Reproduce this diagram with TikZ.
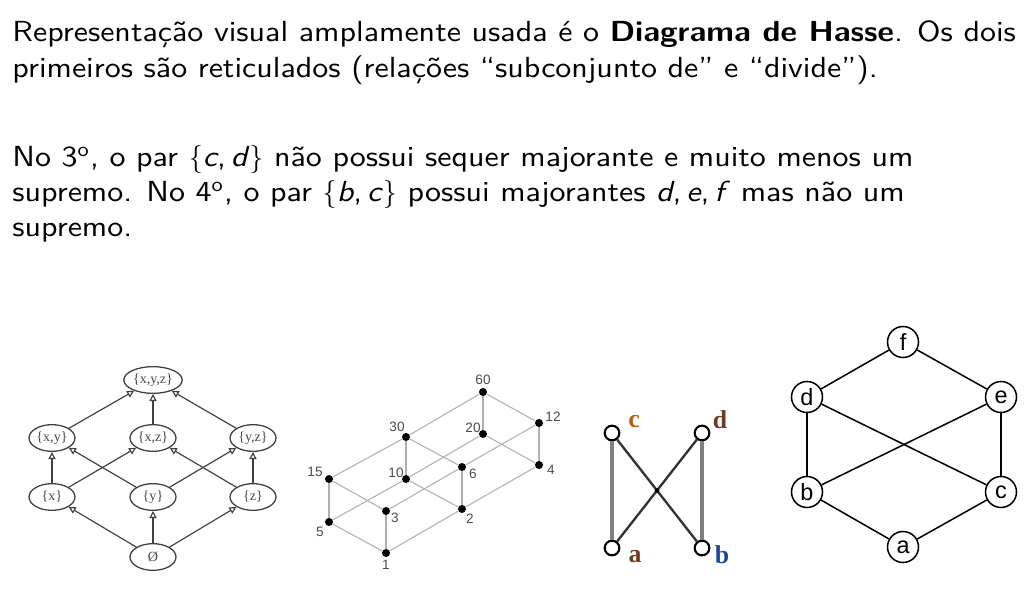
\documentclass[tikz,border=0pt]{standalone}
\usepackage{fontspec}
\newfontfamily\slidefont{lmsans10-regular}[Extension=.otf, Ligatures=TeX, BoldFont=lmsans10-bold, ItalicFont=lmsans10-oblique, BoldItalicFont=lmsans10-boldoblique, FakeStretch=1.1]
\newfontfamily\helv{Liberation Sans}
\newfontfamily\tms{Liberation Serif}
\usetikzlibrary{arrows.meta, positioning, shapes.geometric, calc}
\definecolor{edgegray}{RGB}{176,176,176}
\definecolor{setcolor}{RGB}{70,72,85}
\definecolor{thickgray}{RGB}{128,128,128}
\definecolor{labelorange}{RGB}{185,95,20}
\definecolor{labelbrown}{RGB}{110,60,35}
\definecolor{labelblue}{RGB}{35,70,150}

\begin{document}
\begin{tikzpicture}[
    x=0.015cm, y=-0.015cm,
    txt/.style={anchor=base west, inner sep=0pt, font=\slidefont\fontsize{12.4}{14}\selectfont},
    setnode/.style={draw=black!75, ellipse, line width=0.55pt, minimum width=0.69cm, minimum height=0.4cm, inner sep=0.3pt, text=setcolor, font=\tms\fontsize{6}{7}\selectfont},
    subset/.style={-{Triangle[open, length=3pt, width=3pt]}, line width=0.5pt, draw=black!75},
    divnode/.style={circle, fill=black, inner sep=0pt, minimum size=0.12cm},
    divlabel/.style={inner sep=0pt, text=black!70, font=\helv\fontsize{5.8}{6}\selectfont},
    divedge/.style={draw=edgegray, line width=0.45pt},
    ptnode/.style={circle, draw=black, line width=0.9pt, fill=white, inner sep=0pt, minimum size=0.22cm},
    ptlabel/.style={inner sep=0pt, font=\tms\bfseries\fontsize{11}{12}\selectfont},
    cover/.style={draw=thickgray, line width=1.7pt},
    crossline/.style={draw=black!80, line width=1pt},
    letternode/.style={circle, draw, line width=0.65pt, minimum size=0.465cm, inner sep=0pt, font=\helv\fontsize{10}{10}\selectfont},
    hasseedge/.style={line width=0.65pt}
]
    \useasboundingbox (0,0) rectangle (1024,603);

    % Text
    \node[txt] (t1) at (12,42) {Representação visual amplamente usada é o \textbf{Diagrama de Hasse}. Os dois};
    \node[txt] (t2) at (12,78) {primeiros são reticulados (relações ``subconjunto de'' e ``divide'').};
    \node[txt] (t3) at (12,166.5) {No 3\textsuperscript{o}, o par $\{$\textit{c},\,\textit{d}$\}$ não possui sequer majorante e muito menos um};
    \node[txt] (t4) at (12,201.5) {supremo. No 4\textsuperscript{o}, o par $\{$\textit{b},\,\textit{c}$\}$ possui majorantes \textit{d},\,\textit{e},\,\textit{f} mas não um};
    \node[txt] (t5) at (12,236.5) {supremo.};

    % Subsets of {x,y,z}
    \node[setnode] (sxyz) at (153,380) {\{x,y,z\}};
    \node[setnode] (sxy) at (52,438) {\{x,y\}};
    \node[setnode] (sxz) at (153,438) {\{x,z\}};
    \node[setnode] (syz) at (253,438) {\{y,z\}};
    \node[setnode] (sx) at (52,497) {\{x\}};
    \node[setnode] (sy) at (153,497) {\{y\}};
    \node[setnode] (sz) at (253,497) {\{z\}};
    \node[setnode] (snil) at (153,557) {Ø};

    \draw[subset] (snil) -- (sx);
    \draw[subset] (snil) -- (sy);
    \draw[subset] (snil) -- (sz);
    \draw[subset] (sx) -- (sxy);
    \draw[subset] (sx) -- (sxz);
    \draw[subset] (sy) -- (sxy);
    \draw[subset] (sy) -- (syz);
    \draw[subset] (sz) -- (sxz);
    \draw[subset] (sz) -- (syz);
    \draw[subset] (sxy) -- (sxyz);
    \draw[subset] (sxz) -- (sxyz);
    \draw[subset] (syz) -- (sxyz);

    % Divisors of 60
    \node[divnode] (d60) at (483,392) {};
    \node[divnode] (d12) at (539,423) {};
    \node[divnode] (d30) at (406,437) {};
    \node[divnode] (d20) at (483,434) {};
    \node[divnode] (d15) at (329,479) {};
    \node[divnode] (d10) at (406,479) {};
    \node[divnode] (d6) at (462,467) {};
    \node[divnode] (d4) at (539,465) {};
    \node[divnode] (d3) at (386,511) {};
    \node[divnode] (d2) at (462,509) {};
    \node[divnode] (d5) at (329,522) {};
    \node[divnode] (d1) at (386,553) {};

    \node[divlabel] (l60) at (483,380) {60};
    \node[divlabel] (l12) at (553,417) {12};
    \node[divlabel] (l30) at (397,427) {30};
    \node[divlabel] (l20) at (473,428) {20};
    \node[divlabel] (l15) at (315,472) {15};
    \node[divlabel] (l10) at (396,473) {10};
    \node[divlabel] (l6) at (473,474) {6};
    \node[divlabel] (l4) at (551,470) {4};
    \node[divlabel] (l3) at (395,518) {3};
    \node[divlabel] (l2) at (470,519) {2};
    \node[divlabel] (l5) at (320,532) {5};
    \node[divlabel] (l1) at (386,565) {1};

    \draw[divedge] (d1) -- (d2);
    \draw[divedge] (d1) -- (d3);
    \draw[divedge] (d1) -- (d5);
    \draw[divedge] (d2) -- (d4);
    \draw[divedge] (d2) -- (d6);
    \draw[divedge] (d2) -- (d10);
    \draw[divedge] (d3) -- (d6);
    \draw[divedge] (d3) -- (d15);
    \draw[divedge] (d4) -- (d12);
    \draw[divedge] (d4) -- (d20);
    \draw[divedge] (d5) -- (d10);
    \draw[divedge] (d5) -- (d15);
    \draw[divedge] (d6) -- (d12);
    \draw[divedge] (d6) -- (d30);
    \draw[divedge] (d10) -- (d20);
    \draw[divedge] (d10) -- (d30);
    \draw[divedge] (d12) -- (d60);
    \draw[divedge] (d15) -- (d30);
    \draw[divedge] (d20) -- (d60);
    \draw[divedge] (d30) -- (d60);

    % Pair without majorant
    \node[ptnode] (pc) at (612,433) {};
    \node[ptnode] (pd) at (702,433) {};
    \node[ptnode] (pa) at (612,548) {};
    \node[ptnode] (pb) at (702,548) {};
    \node[ptlabel, text=labelorange] (lc) at (634,422) {c};
    \node[ptlabel, text=labelbrown] (ld) at (720,420) {d};
    \node[ptlabel, text=labelbrown] (la) at (635,557) {a};
    \node[ptlabel, text=labelblue] (lb) at (722,555) {b};

    \draw[cover] (pa) -- (pc);
    \draw[cover] (pb) -- (pd);
    \draw[crossline] (pa) -- (pd);
    \draw[crossline] (pb) -- (pc);
    \fill ($(pc)!0.5!(pb)$) circle (1pt);

    % Pair without supremum
    \node[letternode] (qf) at (903,342) {f};
    \node[letternode] (qd) at (807,397) {d};
    \node[letternode] (qe) at (1001,397) {e};
    \node[letternode] (qb) at (807,492) {b};
    \node[letternode] (qc) at (1001,492) {c};
    \node[letternode] (qa) at (903,547) {a};

    \draw[hasseedge] (qa) -- (qb);
    \draw[hasseedge] (qa) -- (qc);
    \draw[hasseedge] (qb) -- (qd);
    \draw[hasseedge] (qb) -- (qe);
    \draw[hasseedge] (qc) -- (qd);
    \draw[hasseedge] (qc) -- (qe);
    \draw[hasseedge] (qd) -- (qf);
    \draw[hasseedge] (qe) -- (qf);
\end{tikzpicture}
\end{document}
